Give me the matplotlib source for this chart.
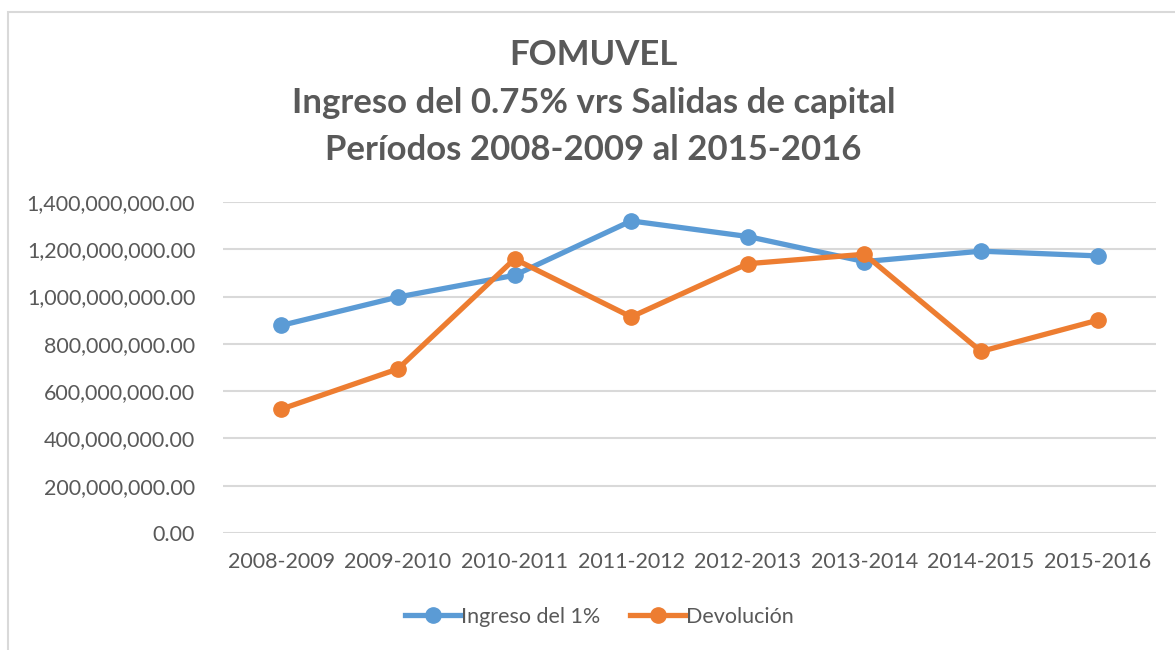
import matplotlib
matplotlib.use("Agg")
from matplotlib import pyplot as plt
from matplotlib.patches import Rectangle
from matplotlib.ticker import FuncFormatter

# Data
periodos = ['2008-2009', '2009-2010', '2010-2011', '2011-2012',
            '2012-2013', '2013-2014', '2014-2015', '2015-2016']
ingreso = [878e6, 998e6, 1090e6, 1320e6, 1254e6, 1148e6, 1192e6, 1172e6]
devolucion = [524e6, 694e6, 1159e6, 914e6, 1139e6, 1179e6, 768e6, 900e6]

plt.rcParams['font.family'] = ['Lato', 'DejaVu Sans']
GRIS = '#595959'
AZUL = '#5B9BD5'
NARANJA = '#ED7D31'


def main():
    fig = plt.figure(figsize=(11.75, 6.5), dpi=100)
    ax = fig.add_axes([223 / 1175, 1 - 533 / 650, (1156 - 223) / 1175, (533 - 202) / 650])

    # borde del area del grafico
    fig.patches.append(Rectangle((8 / 1175, -0.1), 1.2, 1 - 12 / 650 + 0.1,
                                 transform=fig.transFigure, fill=False,
                                 edgecolor='#D9D9D9', linewidth=1.5))

    x = range(len(periodos))
    ax.plot(x, ingreso, color=AZUL, linewidth=3.8, marker='o', markersize=11,
            label='Ingreso del 1%', zorder=3)
    ax.plot(x, devolucion, color=NARANJA, linewidth=3.8, marker='o', markersize=11,
            label='Devolución', zorder=4)

    ax.set_xlim(-0.5, len(periodos) - 0.5)
    ax.set_ylim(0, 1.4e9)
    ax.set_yticks([i * 2e8 for i in range(8)])
    ax.yaxis.set_major_formatter(FuncFormatter(lambda v, p: f'{v:,.2f}'))
    ax.set_xticks(list(x))
    ax.set_xticklabels(periodos)
    ax.tick_params(length=0, labelsize=15.5, labelcolor=GRIS)
    ax.tick_params(axis='y', pad=20)
    ax.tick_params(axis='x', pad=14)
    ax.grid(axis='y', color='#D9D9D9', linewidth=1.5)
    ax.set_axisbelow(True)
    for s in ax.spines.values():
        s.set_visible(False)

    fig.text(0.505, 1 - 55 / 650, 'FOMUVEL', ha='center', va='center',
             fontsize=25, fontweight='bold', color=GRIS)
    fig.text(0.505, 1 - 103 / 650, 'Ingreso del 0.75% vrs Salidas de capital',
             ha='center', va='center', fontsize=25, fontweight='bold', color=GRIS)
    fig.text(0.505, 1 - 150 / 650, 'Períodos 2008-2009 al 2015-2016',
             ha='center', va='center', fontsize=25, fontweight='bold', color=GRIS)

    fig.legend(loc='center', bbox_to_anchor=(0.51, 1 - 617 / 650), ncol=2,
               frameon=False, fontsize=15.5, labelcolor=GRIS,
               handlelength=2.6, handletextpad=0.0, columnspacing=1.4)

    fig.savefig('out.png', dpi=100)


if __name__ == '__main__':
    main()
